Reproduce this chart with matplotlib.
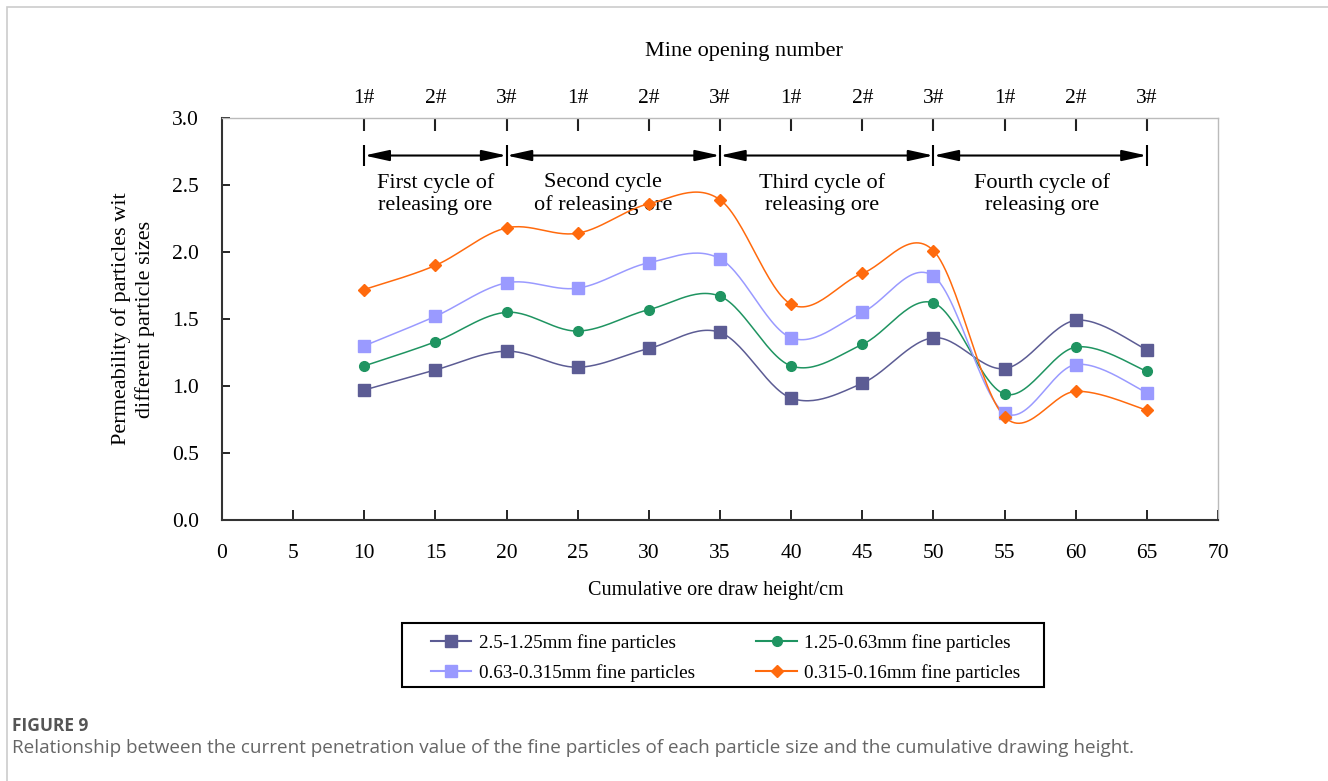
import numpy as np
import matplotlib
matplotlib.use("Agg")
import matplotlib.pyplot as plt
from matplotlib.patches import Rectangle
from matplotlib.lines import Line2D

# ---- data ----
height = [10, 15, 20, 25, 30, 35, 40, 45, 50, 55, 60, 65]
opening = ["1#", "2#", "3#"] * 4

coarse = [0.97, 1.12, 1.26, 1.14, 1.28, 1.40, 0.91, 1.02, 1.36, 1.13, 1.49, 1.27]     # 2.5-1.25mm
medium = [1.15, 1.33, 1.55, 1.41, 1.57, 1.67, 1.15, 1.31, 1.62, 0.94, 1.29, 1.11]     # 1.25-0.63mm
fine = [1.30, 1.52, 1.77, 1.73, 1.92, 1.95, 1.36, 1.55, 1.82, 0.80, 1.16, 0.95]       # 0.63-0.315mm
finest = [1.72, 1.90, 2.18, 2.14, 2.36, 2.39, 1.61, 1.84, 2.01, 0.77, 0.96, 0.82]     # 0.315-0.16mm

series_names = ["2.5-1.25mm fine particles", "1.25-0.63mm fine particles",
                "0.63-0.315mm fine particles", "0.315-0.16mm fine particles"]

cycle_edges = [10, 20, 35, 50, 65]
cycle_names = ["First cycle of\nreleasing ore", "Second cycle\nof releasing ore",
               "Third cycle of\nreleasing ore", "Fourth cycle of\nreleasing ore"]
cycle_text_x = [15, 26.8, 42.2, 57.6]


def smooth(x, y, n=30):
    # Excel-style smoothed line (Catmull-Rom as cubic Bezier) through the points
    p = np.column_stack([x, y]).astype(float)
    p = np.vstack([p[0], p, p[-1]])
    out = []
    t = np.linspace(0, 1, n)[:, None]
    for i in range(1, len(p) - 2):
        p0, p1, p2, p3 = p[i - 1], p[i], p[i + 1], p[i + 2]
        c1 = p1 + (p2 - p0) / 6
        c2 = p2 - (p3 - p1) / 6
        seg = ((1 - t) ** 3) * p1 + 3 * ((1 - t) ** 2) * t * c1 + 3 * (1 - t) * t ** 2 * c2 + t ** 3 * p2
        out.append(seg if i == 1 else seg[1:])
    out = np.vstack(out)
    return out[:, 0], out[:, 1]


def main():
    plt.rcParams["font.family"] = ["Liberation Serif", "DejaVu Serif"]

    fig = plt.figure(figsize=(13.28, 7.81), dpi=100)
    ax = fig.add_axes([222 / 1328, 1 - 520 / 781, 996 / 1328, 402 / 781])

    styles = [
        (coarse, "#5c5c94", "s", 8.5),
        (medium, "#1f9461", "o", 7),
        (fine, "#9a9aff", "s", 8.5),
        (finest, "#ff6a0d", "D", 6.5),
    ]
    handles = []
    for (vals, color, mk, ms), name in zip(styles, series_names):
        sx, sy = smooth(height, vals)
        ax.plot(sx, sy, color=color, lw=1.1, zorder=2)
        ax.plot(height, vals, ls="none", marker=mk, ms=ms, color=color, zorder=3)
        handles.append(Line2D([], [], color=color, lw=1.5, marker=mk, ms=ms, label=name))

    ax.set_xlim(0, 70)
    ax.set_ylim(0, 3.0)
    ax.set_xticks(range(0, 71, 5))
    ax.set_yticks(np.arange(0, 3.01, 0.5))
    ax.yaxis.set_major_formatter(matplotlib.ticker.FormatStrFormatter("%.1f"))
    ax.tick_params(axis="both", direction="in", length=6, width=1.2, labelsize=15.5)
    ax.tick_params(axis="x", length=7, pad=17)
    ax.tick_params(axis="y", pad=16.5)
    for s in ["left", "bottom"]:
        ax.spines[s].set_color("#333333")
        ax.spines[s].set_linewidth(1.5)
    for s in ["top", "right"]:
        ax.spines[s].set_color("#bbbbbb")
        ax.spines[s].set_linewidth(1.0)

    ax.set_xlabel("Cumulative ore draw height/cm", fontsize=14.5, labelpad=13)
    ax.xaxis.label.set_x(0.496)
    ax.set_ylabel("Permeability of particles wit\ndifferent particle sizes", fontsize=16,
                  labelpad=12, linespacing=1.3)

    top = ax.secondary_xaxis("top")
    top.set_xticks(height)
    top.set_xticklabels(opening)
    top.tick_params(direction="in", length=9, width=1.5, labelsize=15.5, pad=7, color="#222222")
    top.spines["top"].set_visible(False)
    top.set_xlabel("Mine opening number", fontsize=16, labelpad=24)
    top.xaxis.label.set_x(0.524)

    # cycle arrows
    arrow_y = 2.72
    ax.vlines(cycle_edges, 2.64, 2.80, color="black", lw=1.5, zorder=4)
    for a, b in zip(cycle_edges[:-1], cycle_edges[1:]):
        ax.annotate("", xy=(a, arrow_y), xytext=(b, arrow_y),
                    arrowprops=dict(arrowstyle="<|-|>,head_length=1.5,head_width=0.33",
                                    color="black", lw=1.5, shrinkA=0, shrinkB=0))
    for tx, txt in zip(cycle_text_x, cycle_names):
        ax.text(tx, 2.43, txt, ha="center", va="center", fontsize=16, linespacing=1.2, zorder=1)

    # legend (frame drawn separately so the side padding matches)
    leg_order = [0, 2, 1, 3]
    fig.legend([handles[i] for i in leg_order], [series_names[i] for i in leg_order],
               loc="upper left", bbox_to_anchor=(431 / 1328, 1 - 634 / 781), ncol=2,
               fontsize=13.8, frameon=False,
               handlelength=2.1, handletextpad=0.4, columnspacing=3.2, borderpad=0,
               labelspacing=0.62, borderaxespad=0)
    fig.add_artist(Rectangle((402 / 1328, 1 - 687 / 781), 642 / 1328, 64 / 781,
                             transform=fig.transFigure, fill=False, edgecolor="black", lw=1.5))

    # caption
    fig.text(12 / 1328, 1 - 726 / 781, "FIGURE 9", fontsize=12.5, color="#555555", weight="bold",
             family=["Open Sans", "DejaVu Sans"], va="center", ha="left")
    fig.text(12 / 1328, 1 - 748 / 781,
             "Relationship between the current penetration value of the fine particles of each particle size "
             "and the cumulative drawing height.",
             fontsize=13.6, color="#666666", family=["Open Sans", "DejaVu Sans"], va="center", ha="left")

    # card border
    fig.add_artist(Rectangle((7 / 1328, -0.05), 1.1, 1 - 7 / 781 + 0.05, transform=fig.transFigure,
                             fill=False, edgecolor="#cccccc", lw=1.2))

    fig.savefig("out.png", dpi=100)


if __name__ == "__main__":
    main()
